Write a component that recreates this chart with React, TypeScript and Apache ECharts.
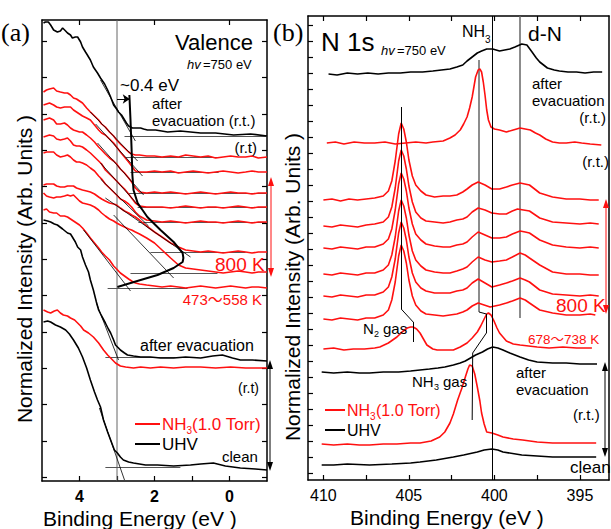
import React, { useEffect, useRef } from 'react';
import * as echarts from 'echarts';

const FONT = '"Liberation Sans", "Noto Sans CJK JP", sans-serif';
const SERIF = '"Liberation Serif", serif';
const RED = '#ff1010';

// ---------- Panel (a): Valence, binding energy (eV) ----------
const EA = [4.96, 4.88, 4.8, 4.69, 4.61, 4.51, 4.4, 4.32, 4.24, 4.16, 4.08, 4.0, 3.92, 3.81, 3.71, 3.6, 3.49, 3.41, 3.31, 3.2, 3.09, 3.01, 2.91, 2.8, 2.69, 2.61, 2.51, 2.4, 2.21, 2.0, 1.8, 1.57, 1.36, 1.17, 0.97, 0.77, 0.57, 0.37, 0.17, -0.03, -0.23, -0.43, -0.6, -0.77, -1.0];
const A_R1 = [389, 391, 392, 393, 390, 389, 388, 388, 386, 383, 382, 380, 378, 373, 369, 365, 361, 357, 354, 349, 345, 341, 337, 333, 329, 327, 326, 326, 325, 325, 324, 325, 324, 326, 325, 324, 325, 323, 324, 325, 324, 324, 325, 323, 324];
const A_R2 = [376, 377, 378, 376, 374, 373, 374, 374, 374, 371, 369, 367, 365, 363, 361, 356, 351, 348, 346, 342, 338, 334, 329, 324, 319, 315, 310, 309, 309, 310, 309, 310, 308, 309, 310, 309, 308, 309, 310, 309, 308, 309, 310, 309, 309];
const A_R3 = [361, 362, 363, 361, 357, 357, 358, 356, 353, 351, 350, 349, 349, 346, 343, 339, 334, 331, 327, 323, 320, 317, 312, 308, 303, 299, 293, 289, 288, 289, 288, 289, 288, 287, 288, 289, 288, 287, 288, 289, 288, 288, 287, 288, 288];
const A_R4 = [344, 345, 346, 345, 342, 341, 342, 343, 340, 336, 335, 335, 334, 331, 328, 324, 320, 317, 311, 307, 303, 300, 296, 292, 287, 283, 278, 275, 274, 274, 274, 273, 274, 275, 274, 273, 274, 274, 273, 274, 275, 274, 273, 274, 274];
const A_R5 = [328, 329, 329, 329, 326, 324, 325, 326, 324, 321, 319, 319, 318, 316, 313, 310, 305, 302, 297, 293, 289, 286, 282, 280, 277, 274, 269, 265, 261, 260, 259, 260, 259, 258, 259, 260, 259, 259, 258, 259, 260, 259, 258, 259, 259];
const A_R6 = [296, 297, 297, 297, 295, 294, 294, 295, 295, 295, 293, 292, 291, 290, 289, 287, 284, 282, 280, 278, 277, 276, 273, 270, 268, 266, 264, 261, 255, 249, 244, 238, 234, 231, 230, 229, 230, 229, 228, 229, 230, 229, 228, 229, 229];
const A_R7 = [288, 285, 284, 283, 284, 284, 285, 286, 285, 286, 283, 280, 278, 277, 276, 274, 271, 268, 265, 262, 260, 258, 256, 254, 252, 251, 249, 247, 243, 238, 231, 223, 216, 213, 212, 211, 210, 209, 208, 209, 210, 209, 208, 209, 209];
const A_R8 = [271, 272, 269, 268, 268, 265, 265, 264, 262, 260, 258, 256, 253, 248, 243, 238, 233, 229, 225, 221, 215, 212, 208, 205, 202, 200, 198, 197, 196, 195, 194, 195, 194, 193, 194, 195, 194, 193, 194, 195, 194, 193, 194, 194, 193];
const A_EVAC_TOP = [[4.96, 458], [4.91, 459], [4.83, 459], [4.77, 456], [4.69, 451], [4.59, 449], [4.51, 450], [4.45, 453], [4.37, 450], [4.32, 448], [4.24, 446], [4.19, 443], [4.11, 444], [4.05, 444], [3.97, 439], [3.92, 434], [3.84, 429], [3.79, 426], [3.71, 421], [3.63, 414], [3.52, 408], [3.44, 403], [3.33, 397], [3.25, 391], [3.17, 384], [3.09, 376], [3.01, 372], [2.96, 369], [2.88, 366], [2.83, 363], [2.75, 358], [2.69, 355], [2.64, 354], [2.59, 353], [2.51, 353], [2.37, 353], [2.29, 352], [2.19, 351], [1.97, 351], [1.65, 349], [1.31, 350], [0.77, 348], [0.37, 348], [-0.11, 346], [-0.56, 347], [-1.0, 345]];
const A_EVAC_LOW = [[4.96, 261], [4.85, 260], [4.77, 259], [4.67, 257], [4.59, 256], [4.45, 252], [4.32, 248], [4.24, 247], [4.19, 244], [4.11, 239], [4.05, 234], [3.97, 231], [3.92, 224], [3.84, 216], [3.76, 209], [3.71, 201], [3.63, 191], [3.55, 179], [3.49, 171], [3.41, 165], [3.31, 158], [3.23, 152], [3.17, 148], [3.09, 141], [3.04, 136], [2.96, 133], [2.91, 131], [2.8, 128], [2.72, 126], [2.56, 125], [2.37, 124], [2.11, 124], [1.84, 123], [1.49, 123], [1.17, 124], [0.77, 123], [0.45, 125], [0.19, 126], [-0.08, 123], [-0.29, 121], [-0.61, 121], [-1.0, 120]];
const A_NH3_RT = [[4.96, 171], [4.85, 169], [4.77, 168], [4.67, 170], [4.59, 171], [4.51, 168], [4.43, 166], [4.32, 165], [4.24, 163], [4.13, 161], [4.05, 158], [3.97, 155], [3.89, 151], [3.76, 148], [3.63, 144], [3.49, 138], [3.36, 131], [3.25, 126], [3.17, 123], [3.04, 118], [2.91, 115], [2.77, 114], [2.56, 113], [2.37, 114], [2.11, 113], [1.84, 114], [1.49, 113], [1.17, 114], [0.77, 114], [0.37, 113], [-0.03, 114], [-0.43, 113], [-1.0, 113]];
const A_CLEAN = [[4.96, 159], [4.85, 160], [4.77, 159], [4.64, 156], [4.51, 154], [4.37, 151], [4.27, 147], [4.16, 141], [4.03, 133], [3.92, 124], [3.81, 113], [3.71, 101], [3.6, 89], [3.52, 81], [3.44, 74], [3.36, 61], [3.25, 49], [3.17, 41], [3.07, 31], [2.99, 28], [2.91, 24], [2.83, 21], [2.69, 19], [2.56, 18], [2.24, 16], [1.92, 16], [1.49, 15], [1.04, 16], [0.77, 17], [0.43, 18], [0.11, 15], [-0.29, 13], [-0.69, 12], [-1.0, 11]];
const A_ONSET = [[2.67, 386], [2.64, 361], [2.61, 331], [2.59, 306], [2.56, 291], [2.45, 278], [2.19, 264], [1.84, 251], [1.49, 239], [1.25, 228], [1.23, 223], [1.25, 219], [1.49, 213], [1.92, 206], [2.37, 201], [2.99, 194]];
const A_BASELINES = [[[2.8, 345], [-1.0, 345]], [[2.77, 324], [0.29, 324]], [[2.64, 309], [0.29, 309]], [[2.72, 288], [-1.0, 288]], [[2.45, 274], [-1.0, 274]], [[2.43, 259], [-1.0, 259]], [[2.11, 229], [-0.43, 229]], [[2.64, 208], [0.32, 208]], [[3.25, 193], [1.12, 193]], [[3.31, 124], [1.44, 124]], [[3.31, 14], [1.31, 14]]];
const A_TANGENTS = [[[3.44, 401], [2.51, 340]], [[3.71, 369], [2.45, 320]], [[3.57, 357], [2.32, 305]], [[3.52, 338], [2.29, 286]], [[3.44, 318], [2.32, 271]], [[3.44, 302], [2.16, 255]], [[3.31, 283], [1.04, 224]], [[3.09, 266], [1.49, 203]], [[3.89, 251], [2.64, 190]], [[3.55, 178], [2.96, 121]], [[3.47, 73], [2.8, 1]]];
const A_SHIFT = [[3.0, 382], [2.66, 382]];
const A_REF_E = 3.0;
const A_TICK_X = [0, 1, 2, 3, 4];
const A_TICK_X_TOP = [0, 2, 4];
const A_LABEL_X = [0, 2, 4];
const A_TICK_Y = [4, 40, 77, 113, 149, 186, 222, 258, 295, 331, 367, 404, 440];

// ---------- Panel (b): N 1s ----------
const B_EVAC_TOP = [[409.7, 406], [409.2, 405], [408.6, 407], [408.0, 406], [407.4, 407], [406.8, 406], [406.2, 407], [405.5, 407], [404.9, 408], [404.2, 408], [403.6, 409], [403.1, 410], [402.6, 411], [402.2, 413], [401.85, 415], [401.6, 419], [401.3, 423], [401.0, 427], [400.75, 429], [400.45, 431], [400.1, 431], [399.7, 429], [399.4, 430], [399.1, 431], [398.8, 433], [398.4, 436], [398.1, 435], [397.8, 428], [397.55, 422], [397.35, 418], [396.9, 412], [396.5, 410], [396.2, 409], [395.7, 408], [395.2, 408], [394.7, 407], [394.2, 408], [393.7, 408]];
const B_RT = [[409.8, 337], [409.3, 338], [408.8, 336], [408.2, 338], [407.6, 337], [407.0, 337], [406.4, 338], [405.8, 336], [405.2, 337], [404.6, 338], [404.0, 337], [403.6, 338], [403.0, 339], [402.6, 342], [402.3, 345], [402.0, 350], [401.8, 356], [401.6, 363], [401.45, 372], [401.3, 383], [401.2, 393], [401.1, 403], [400.95, 410], [400.85, 411], [400.75, 408], [400.65, 398], [400.55, 385], [400.45, 370], [400.35, 360], [400.2, 353], [400.0, 351], [399.7, 350], [399.3, 348], [398.9, 350], [398.5, 352], [398.2, 351], [397.9, 350], [397.6, 347], [397.35, 345], [397.0, 341], [396.6, 338], [396.2, 337], [395.8, 337], [395.3, 338], [394.9, 337], [394.4, 336], [393.75, 335]];
const B_H1 = [[410.0, 280], [409.5, 281], [409.0, 279], [408.5, 281], [408.0, 280], [407.5, 281], [407.0, 282], [406.5, 284], [406.2, 289], [406.0, 299], [405.8, 319], [405.6, 346], [405.45, 357], [405.3, 351], [405.15, 338], [405.0, 320], [404.8, 304], [404.6, 295], [404.3, 289], [404.0, 285], [403.5, 283], [403.0, 284], [402.6, 284], [402.2, 285], [401.85, 288], [401.6, 291], [401.3, 295], [400.95, 298], [400.55, 295], [400.15, 291], [399.7, 291], [399.3, 293], [398.95, 295], [398.5, 297], [397.95, 295], [397.35, 287], [396.6, 283], [395.8, 281], [395.0, 281], [394.4, 280], [393.9, 280]];
const B_H2 = [[410.0, 254], [409.5, 253], [409.0, 255], [408.5, 254], [408.0, 253], [407.5, 255], [407.0, 256], [406.5, 258], [406.2, 263], [406.0, 273], [405.8, 292], [405.6, 319], [405.45, 330], [405.3, 324], [405.15, 311], [405.0, 294], [404.8, 278], [404.6, 268], [404.3, 262], [404.0, 259], [403.5, 258], [403.0, 257], [402.6, 258], [402.2, 260], [401.85, 261], [401.6, 263], [401.3, 268], [400.95, 272], [400.55, 270], [400.15, 267], [399.7, 266], [399.3, 266], [398.95, 269], [398.65, 271], [398.3, 270], [397.95, 269], [397.35, 262], [396.6, 258], [395.8, 257], [395.0, 256], [394.4, 257], [393.9, 256]];
const B_H3 = [[410.0, 232], [409.5, 231], [409.0, 233], [408.5, 232], [408.0, 231], [407.5, 233], [407.0, 233], [406.5, 236], [406.2, 241], [406.0, 251], [405.8, 270], [405.6, 296], [405.45, 307], [405.3, 301], [405.15, 289], [405.0, 272], [404.8, 256], [404.6, 246], [404.3, 240], [404.0, 236], [403.5, 234], [403.0, 233], [402.6, 233], [402.2, 235], [401.85, 236], [401.6, 238], [401.3, 243], [400.95, 248], [400.55, 245], [400.15, 242], [399.7, 242], [399.3, 243], [398.95, 246], [398.5, 249], [398.2, 248], [397.95, 247], [397.35, 240], [396.6, 235], [395.8, 233], [395.0, 232], [394.4, 233], [393.9, 232]];
const B_H4 = [[410.0, 206], [409.5, 205], [409.0, 207], [408.5, 206], [408.0, 205], [407.5, 207], [407.0, 207], [406.5, 210], [406.2, 215], [406.0, 225], [405.8, 243], [405.6, 269], [405.45, 280], [405.3, 274], [405.15, 262], [405.0, 245], [404.8, 229], [404.6, 220], [404.3, 214], [404.0, 210], [403.5, 208], [403.0, 207], [402.6, 207], [402.2, 209], [401.85, 211], [401.6, 213], [401.3, 218], [400.95, 223], [400.55, 220], [400.15, 218], [399.7, 219], [399.3, 220], [398.95, 223], [398.5, 227], [398.2, 225], [397.95, 222], [397.35, 215], [396.6, 208], [395.8, 206], [395.0, 206], [394.4, 205], [393.9, 205]];
const B_H5 = [[410.0, 184], [409.5, 183], [409.0, 185], [408.5, 184], [408.0, 183], [407.5, 185], [407.0, 185], [406.5, 188], [406.2, 193], [406.0, 203], [405.8, 221], [405.6, 247], [405.45, 258], [405.3, 252], [405.15, 240], [405.0, 223], [404.8, 207], [404.6, 198], [404.3, 192], [404.0, 189], [403.5, 187], [403.0, 187], [402.6, 187], [402.2, 189], [401.85, 190], [401.6, 192], [401.3, 197], [400.95, 201], [400.55, 197], [400.15, 193], [399.7, 195], [399.3, 197], [398.95, 199], [398.5, 202], [398.2, 200], [397.95, 198], [397.35, 190], [396.6, 186], [395.8, 185], [395.0, 184], [394.4, 185], [393.9, 184]];
const B_H6 = [[410.0, 161], [409.5, 160], [409.0, 162], [408.5, 161], [408.0, 160], [407.5, 162], [407.0, 162], [406.5, 165], [406.2, 170], [406.0, 180], [405.8, 198], [405.6, 224], [405.45, 235], [405.3, 229], [405.15, 217], [405.0, 200], [404.8, 184], [404.6, 175], [404.3, 169], [404.0, 166], [403.5, 165], [403.0, 164], [402.6, 165], [402.2, 166], [401.85, 168], [401.6, 170], [401.3, 174], [400.95, 177], [400.6, 175], [400.25, 173], [399.7, 175], [399.3, 177], [398.95, 179], [398.5, 182], [398.2, 180], [397.95, 177], [397.35, 170], [396.6, 167], [395.8, 165], [395.0, 165], [394.4, 166], [394.1, 165]];
const B_H7 = [[410.0, 131], [409.4, 132], [408.8, 130], [408.25, 131], [407.6, 131], [407.0, 132], [406.7, 133], [406.2, 137], [405.7, 143], [405.4, 148], [405.1, 152], [404.9, 153], [404.75, 153], [404.55, 151], [404.35, 147], [404.15, 141], [403.95, 135], [403.6, 131], [403.35, 130], [402.9, 130], [402.4, 130], [402.0, 133], [401.6, 137], [401.3, 142], [401.0, 148], [400.8, 154], [400.6, 161], [400.45, 166], [400.35, 167], [400.2, 165], [400.05, 160], [399.85, 152], [399.7, 147], [399.5, 143], [399.3, 139], [398.9, 136], [398.5, 135], [398.0, 134], [397.5, 133], [396.8, 132], [396.0, 133], [395.2, 132], [394.3, 132]];
const B_EVAC_LOW = [[410.1, 108], [409.4, 107], [408.6, 108], [407.9, 107], [407.3, 107], [406.5, 108], [405.6, 108], [404.9, 109], [404.35, 110], [403.8, 111], [403.3, 112], [402.9, 113], [402.4, 115], [402.0, 117], [401.7, 119], [401.4, 122], [401.1, 125], [400.7, 128], [400.4, 131], [400.1, 133], [399.8, 132], [399.5, 130], [399.1, 127], [398.5, 123], [398.0, 120], [397.5, 118], [396.6, 117], [395.8, 117], [395.0, 116], [394.0, 116]];
const B_NH3_RT = [[410.1, 36], [409.4, 35], [408.6, 36], [407.9, 35], [407.3, 35], [406.5, 36], [405.7, 36], [404.9, 37], [404.35, 37], [403.7, 39], [403.2, 43], [402.9, 48], [402.6, 57], [402.4, 66], [402.15, 80], [401.9, 92], [401.7, 103], [401.55, 111], [401.45, 115], [401.3, 114], [401.15, 106], [401.0, 93], [400.85, 79], [400.75, 67], [400.6, 56], [400.45, 48], [400.15, 47], [399.8, 45], [399.5, 43], [398.9, 41], [398.35, 40], [397.5, 38], [396.6, 37], [395.5, 37], [394.05, 37]];
const B_CLEAN = [[410.1, 15], [409.4, 15], [408.6, 16], [407.3, 15], [406.0, 16], [404.9, 17], [404.35, 18], [403.4, 20], [402.4, 23], [401.8, 25], [401.0, 28], [400.6, 30], [400.15, 31], [399.8, 30], [399.5, 28], [398.4, 25], [397.5, 24], [396.6, 23], [395.5, 23], [394.05, 23]];
const B_GUIDES_BLACK = [[[400.1, 0], [400.1, 464]], [[405.45, 373], [405.45, 171]], [[405.45, 171], [404.75, 158]], [[404.75, 158], [404.75, 138]], [[400.9, 168], [400.47, 166]], [[400.47, 166], [400.47, 147]], [[400.47, 147], [401.27, 127]], [[401.27, 127], [401.3, 60]]];
const B_GUIDES_GREY = [[[400.9, 420], [400.9, 168]], [[398.5, 464], [398.5, 162]]];
const B_TICK_X = [395, 397.5, 400, 402.5, 405, 407.5, 410];
const B_LABEL_X = [395, 400, 405, 410];
const B_TICK_Y = [7, 23, 39, 55, 71, 87, 103, 119, 135, 151, 167, 183, 199, 215, 231, 247, 263, 279, 295, 311, 327, 343, 359, 375, 391, 407, 423, 439, 455];

const zip = (xs: number[], ys: number[]) => xs.map((x, i) => [x, ys[i]]);

function line(data: any, color: string, xi: number, yi: number, width = 1.6, z = 3) {
  return {
    type: 'line', data, xAxisIndex: xi, yAxisIndex: yi, showSymbol: false, symbol: 'none',
    lineStyle: { color, width }, silent: true, z, animation: false,
  };
}
function segs(list: any[], color: string, xi: number, yi: number, width: number, z = 2) {
  return {
    type: 'lines', coordinateSystem: 'cartesian2d', xAxisIndex: xi, yAxisIndex: yi,
    data: list.map((c) => ({ coords: c })), lineStyle: { color, width, opacity: 1, curveness: 0 },
    silent: true, z, animation: false,
  };
}

function txt(text: string, x: number, y: number, size: number, o: any = {}) {
  return {
    type: 'text', x, y, silent: true, z: 100, rotation: o.rot || 0,
    style: {
      text, fill: o.fill || '#000',
      font: `${o.italic ? 'italic ' : ''}${o.bold ? 'bold ' : ''}${size}px ${o.family || FONT}`,
      align: o.align || 'left', verticalAlign: 'middle',
    },
  };
}
function gline(x1: number, y1: number, x2: number, y2: number, color: string, w = 1) {
  return { type: 'line', silent: true, z: 100, shape: { x1, y1, x2, y2 }, style: { stroke: color, lineWidth: w } };
}
function dArrow(x: number, y1: number, y2: number, color: string) {
  return [
    gline(x, y1 + 4, x, y2 - 4, color, 1),
    { type: 'polygon', silent: true, z: 100, shape: { points: [[x, y1], [x - 3, y1 + 9], [x + 3, y1 + 9]] }, style: { fill: color } },
    { type: 'polygon', silent: true, z: 100, shape: { points: [[x, y2], [x - 3, y2 - 9], [x + 3, y2 - 9]] }, style: { fill: color } },
  ];
}

function buildOption() {
  const axisLine = { show: true, onZero: false, lineStyle: { color: '#000', width: 1.5 } };
  const tickStyle = { color: '#000', width: 1.2 };
  const xAxis = [
    { gridIndex: 0, type: 'value', min: -1, max: 5, inverse: true, position: 'bottom', axisLine,
      axisTick: { inside: true, length: 5, customValues: A_TICK_X, lineStyle: tickStyle },
      axisLabel: { customValues: A_LABEL_X, fontSize: 16, fontWeight: 'bold', color: '#000', fontFamily: FONT, margin: 7 },
      splitLine: { show: false } },
    { gridIndex: 0, type: 'value', min: -1, max: 5, inverse: true, position: 'top', axisLine,
      axisTick: { inside: true, length: 5, customValues: A_TICK_X_TOP, lineStyle: tickStyle },
      axisLabel: { show: false }, splitLine: { show: false } },
    { gridIndex: 1, type: 'value', min: 393.3, max: 410.9, inverse: true, position: 'bottom', axisLine,
      axisTick: { inside: true, length: 5, customValues: B_TICK_X, lineStyle: tickStyle },
      axisLabel: { customValues: B_LABEL_X, fontSize: 16, color: '#000', fontFamily: FONT, margin: 7 },
      splitLine: { show: false } },
    { gridIndex: 1, type: 'value', min: 393.3, max: 410.9, inverse: true, position: 'top', axisLine,
      axisTick: { inside: true, length: 5, customValues: B_TICK_X, lineStyle: tickStyle },
      axisLabel: { show: false }, splitLine: { show: false } },
  ];
  const yAxis = [
    { gridIndex: 0, type: 'value', min: 0, max: 461, position: 'left', axisLine,
      axisTick: { inside: true, length: 5, customValues: A_TICK_Y, lineStyle: tickStyle },
      axisLabel: { show: false }, splitLine: { show: false } },
    { gridIndex: 0, type: 'value', min: 0, max: 461, position: 'right', axisLine,
      axisTick: { inside: true, length: 5, customValues: A_TICK_Y, lineStyle: tickStyle },
      axisLabel: { show: false }, splitLine: { show: false } },
    { gridIndex: 1, type: 'value', min: 0, max: 464, position: 'left', axisLine,
      axisTick: { inside: true, length: 5, customValues: B_TICK_Y, lineStyle: tickStyle },
      axisLabel: { show: false }, splitLine: { show: false } },
    { gridIndex: 1, type: 'value', min: 0, max: 464, position: 'right', axisLine,
      axisTick: { show: false }, axisLabel: { show: false }, splitLine: { show: false } },
  ];

  const series: any[] = [
    // panel a
    line([[A_REF_E, 0], [A_REF_E, 461]], '#666', 0, 0, 1, 1),
    segs(A_BASELINES, '#555', 0, 0, 1.2, 2),
    segs(A_TANGENTS, '#000', 0, 0, 0.8, 4),
    line(A_EVAC_TOP, '#000', 0, 0),
    line(zip(EA, A_R1), RED, 0, 0),
    line(zip(EA, A_R2), RED, 0, 0),
    line(zip(EA, A_R3), RED, 0, 0),
    line(zip(EA, A_R4), RED, 0, 0),
    line(zip(EA, A_R5), RED, 0, 0),
    line(zip(EA, A_R6), RED, 0, 0),
    line(zip(EA, A_R7), RED, 0, 0),
    line(zip(EA, A_R8), RED, 0, 0),
    line(A_EVAC_LOW, '#000', 0, 0),
    line(A_NH3_RT, RED, 0, 0),
    line(A_CLEAN, '#000', 0, 0),
    line(A_ONSET, '#000', 0, 0, 2, 5),
    {
      type: 'lines', coordinateSystem: 'cartesian2d', xAxisIndex: 0, yAxisIndex: 0,
      data: [{ coords: A_SHIFT }], symbol: ['none', 'arrow'], symbolSize: 7,
      lineStyle: { color: '#000', width: 1, opacity: 1 }, silent: true, z: 6,
    },
    // panel b
    segs(B_GUIDES_GREY, '#666', 2, 2, 1.5, 2),
    segs(B_GUIDES_BLACK, '#000', 2, 2, 1, 4),
    line(B_EVAC_TOP, '#000', 2, 2),
    line(B_RT, RED, 2, 2),
    line(B_H1, RED, 2, 2),
    line(B_H2, RED, 2, 2),
    line(B_H3, RED, 2, 2),
    line(B_H4, RED, 2, 2),
    line(B_H5, RED, 2, 2),
    line(B_H6, RED, 2, 2),
    line(B_H7, RED, 2, 2),
    line(B_EVAC_LOW, '#000', 2, 2),
    line(B_NH3_RT, RED, 2, 2),
    line(B_CLEAN, '#000', 2, 2),
  ];

  const graphic: any[] = [
    // panel a texts
    txt('(a)', 1, 32, 26, { family: SERIF }),
    txt('Valence', 175, 42, 22),
    txt('hv', 187, 64, 13, { italic: true }),
    txt('=750 eV', 203, 64, 13),
    txt('~0.4 eV', 120, 85, 17),
    txt('after', 152, 103, 15),
    txt('evacuation (r.t.)', 152, 120, 15),
    txt('(r.t)', 257, 147, 15, { align: 'right' }),
    txt('800 K', 215, 264, 19, { fill: RED }),
    txt('473～558 K', 262, 299, 15, { fill: RED, align: 'right' }),
    txt('after evacuation', 140, 345, 16),
    txt('(r.t)', 259, 388, 14, { align: 'right' }),
    gline(135, 424, 160, 424, RED, 2),
    txt('NH', 162, 424, 17, { fill: RED }),
    txt('3', 186.5, 430, 10, { fill: RED }),
    txt('(1.0 Torr)', 192, 424, 17, { fill: RED }),
    gline(135, 444, 160, 444, '#000', 2),
    txt('UHV', 162, 444, 17),
    txt('clean', 222, 456, 15),
    txt('Normalized Intensity (Arb. Units )', 24, 269, 21, { rot: Math.PI / 2, align: 'center' }),
    txt('Binding Energy (eV )', 43, 518, 21),
    ...dArrow(271, 177, 277, RED),
    ...dArrow(270, 360, 471, '#000'),
    // panel b texts
    txt('(b)', 273, 32, 26, { family: SERIF }),
    txt('N 1s', 321, 42, 26),
    txt('hv', 381, 50, 13, { italic: true }),
    txt('=750 eV', 397, 50, 13),
    txt('NH', 462, 31, 16),
    txt('3', 485, 39, 10),
    txt('d-N', 528, 33, 21),
    txt('after', 532, 83, 15),
    txt('evacuation', 532, 100, 15),
    txt('(r.t.)', 606, 117, 15, { align: 'right' }),
    txt('(r.t.)', 609, 161, 15, { align: 'right' }),
    txt('800 K', 556, 305, 19, { fill: RED }),
    txt('678～738 K', 528, 339, 13.5, { fill: RED }),
    txt('N', 363, 328, 15),
    txt('2', 374, 334, 9),
    txt('gas', 383, 328, 15),
    txt('NH', 412, 381, 15),
    txt('3', 434, 387, 9),
    txt('gas', 443, 381, 15),
    txt('after', 516, 372, 15),
    txt('evacuation', 516, 389, 15),
    txt('(r.t.)', 573, 414, 15),
    gline(325, 410, 345, 410, RED, 2),
    txt('NH', 347, 410, 16, { fill: RED }),
    txt('3', 370, 416, 10, { fill: RED }),
    txt('(1.0 Torr)', 376, 410, 16, { fill: RED }),
    gline(325, 430, 345, 430, '#000', 2),
    txt('UHV', 347, 430, 16),
    txt('clean', 570, 467, 17),
    txt('Normalized Intensity (Arb. Units )', 292, 287, 21, { rot: Math.PI / 2, align: 'center' }),
    txt('Binding Energy (eV )', 350, 517, 21),
    ...dArrow(606, 199, 314, RED),
    ...dArrow(605, 362, 457, '#000'),
  ];

  return {
    animation: false,
    backgroundColor: '#fff',
    grid: [
      { left: 42, top: 20, width: 225, height: 461, containLabel: false },
      { left: 308, top: 16, width: 301, height: 464, containLabel: false },
    ],
    xAxis, yAxis, series, graphic,
  };
}

export default function App() {
  const ref = useRef<HTMLDivElement>(null);
  useEffect(() => {
    const chart = echarts.init(ref.current as HTMLDivElement, null, { renderer: 'svg' });
    chart.setOption(buildOption() as any);
    return () => chart.dispose();
  }, []);
  return <div ref={ref} style={{ position: 'absolute', left: 0, top: 0, width: 611, height: 529 }} />;
}
